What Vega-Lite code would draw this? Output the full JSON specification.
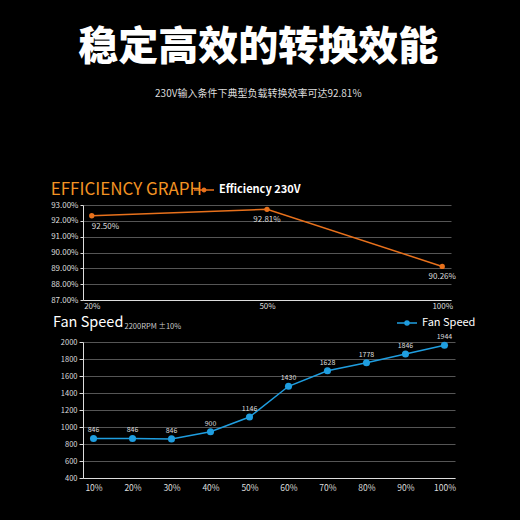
{
  "$schema": "https://vega.github.io/schema/vega-lite/v6.json",
  "background": "black",
  "padding": {"left": 50, "top": 28, "right": 48, "bottom": 30},
  "title": {
    "text": "稳定高效的转换效能",
    "subtitle": "230V输入条件下典型负载转换效率可达92.81%",
    "anchor": "middle",
    "frame": "bounds",
    "dx": -5,
    "font": "Noto Sans CJK SC",
    "fontSize": 40,
    "fontWeight": 900,
    "color": "white",
    "subtitleFont": "Noto Sans CJK SC",
    "subtitleFontSize": 10,
    "subtitleColor": "#dddddd",
    "subtitlePadding": 21,
    "offset": 80
  },
  "config": {
    "font": "Noto Sans CJK SC",
    "view": {"stroke": null},
    "axis": {
      "gridColor": "#555555",
      "domainColor": "#dddddd",
      "tickColor": "#dddddd",
      "labelColor": "#dddddd",
      "labelFont": "Noto Sans CJK SC",
      "title": null
    },
    "legend": {"labelColor": "white", "labelFont": "Noto Sans CJK SC"}
  },
  "resolve": {
    "scale": {"x": "independent", "y": "independent", "color": "independent"},
    "legend": {"color": "independent"}
  },
  "spacing": 2,
  "vconcat": [
    {
      "width": 368,
      "height": 95,
      "title": {"text": "EFFICIENCY GRAPH", "anchor": "start", "frame": "bounds", "color": "#f39323", "fontSize": 17, "fontWeight": "normal", "offset": -20},
      "data": {
        "values": [
          {"load": "20%", "eff": 0.9232, "label": "92.50%"},
          {"load": "50%", "eff": 0.9273, "label": "92.81%"},
          {"load": "100%", "eff": 0.8912, "label": "90.26%"}
        ]
      },
      "encoding": {
        "x": {"field": "load", "type": "ordinal", "sort": null, "scale": {"type": "point", "padding": 0.05},
              "axis": {"labelAngle": 0, "grid": false, "ticks": false, "labelFontSize": 8, "labelPadding": 2}},
        "y": {"field": "eff", "type": "quantitative", "scale": {"domain": [0.87, 0.93], "nice": false, "zero": false},
              "axis": {"format": ".2%", "values": [0.87, 0.88, 0.89, 0.90, 0.91, 0.92, 0.93], "labelFontSize": 8, "tickSize": 3}}
      },
      "layer": [
        {
          "mark": {"type": "line", "strokeWidth": 1.5},
          "encoding": {
            "color": {"datum": "Efficiency 230V", "scale": {"range": ["#e8711c"]},
              "legend": {"title": null, "orient": "none", "legendX": 110, "legendY": -26, "labelFontSize": 11, "labelFontWeight": "bold",
                "symbolType": "M-1,0L1,0M0.17,0A0.17,0.17 0 1 1 -0.17,0A0.17,0.17 0 1 1 0.17,0Z", "symbolSize": 400,
                "symbolFillColor": "#e8711c", "symbolStrokeWidth": 1.5}}
          }
        },
        {"mark": {"type": "circle", "size": 28, "opacity": 1, "color": "#e8711c"}},
        {
          "mark": {"type": "text", "dy": 11, "fontSize": 8, "color": "#dddddd", "align": {"expr": "datum.load == '20%' ? 'left' : 'center'"}},
          "encoding": {"text": {"field": "label"}}
        }
      ]
    },
    {
      "width": 372,
      "height": 136,
      "title": {"text": "Fan Speed", "anchor": "start", "frame": "group", "dx": -30, "color": "white", "fontSize": 14.5, "fontWeight": "normal", "offset": -18},
      "data": {
        "values": [
          {"load": "10%", "rpm": 865, "label": "846"},
          {"load": "20%", "rpm": 865, "label": "846"},
          {"load": "30%", "rpm": 860, "label": "846"},
          {"load": "40%", "rpm": 945, "label": "900"},
          {"load": "50%", "rpm": 1118, "label": "1146"},
          {"load": "60%", "rpm": 1479, "label": "1430"},
          {"load": "70%", "rpm": 1662, "label": "1628"},
          {"load": "80%", "rpm": 1756, "label": "1778"},
          {"load": "90%", "rpm": 1859, "label": "1846"},
          {"load": "100%", "rpm": 1961, "label": "1944"}
        ]
      },
      "encoding": {
        "x": {"field": "load", "type": "ordinal", "sort": null, "scale": {"type": "point", "padding": 0.27},
              "axis": {"labelAngle": 0, "grid": false, "ticks": false, "labelFontSize": 8.5, "labelPadding": 5}},
        "y": {"field": "rpm", "type": "quantitative", "scale": {"domain": [400, 2000], "nice": false, "zero": false},
              "axis": {"format": "d", "values": [400, 600, 800, 1000, 1200, 1400, 1600, 1800, 2000], "labelFontSize": 7.5, "tickSize": 4}}
      },
      "layer": [
        {
          "mark": {"type": "line", "strokeWidth": 1.5},
          "encoding": {
            "color": {"datum": "Fan Speed", "scale": {"range": ["#1f9ee0"]},
              "legend": {"title": null, "orient": "none", "legendX": 313, "legendY": -30, "labelFontSize": 11,
                "symbolType": "M-1,0L1,0M0.2,0A0.2,0.2 0 1 1 -0.2,0A0.2,0.2 0 1 1 0.2,0Z", "symbolSize": 400,
                "symbolFillColor": "#1f9ee0", "symbolStrokeWidth": 1.5}}
          }
        },
        {"mark": {"type": "circle", "size": 50, "opacity": 1, "color": "#1f9ee0"}},
        {
          "mark": {"type": "text", "dy": -8, "fontSize": 7, "color": "#dddddd"},
          "encoding": {"text": {"field": "label"}}
        },
        {
          "transform": [{"filter": "datum.load == '20%'"}],
          "mark": {"type": "text", "align": "left", "fontSize": 7.5, "color": "#cccccc", "dx": -8},
          "encoding": {"y": {"datum": 2180}, "text": {"value": "2200RPM ±10%"}}
        }
      ]
    }
  ]
}
